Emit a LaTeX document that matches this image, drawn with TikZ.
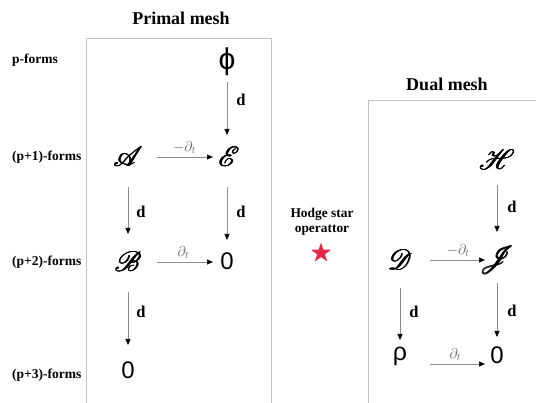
\documentclass[tikz,border=0pt]{standalone}
\usepackage{fontspec}
\setmainfont{Liberation Serif}
\newfontfamily\symfont{Liberation Sans}
% script alphabet, scalable to any size
\DeclareFontFamily{U}{rsfs}{\skewchar\font127 }
\DeclareFontShape{U}{rsfs}{m}{n}{<-> rsfs10}{}
\usepackage{mathrsfs}
\usetikzlibrary{arrows.meta,shapes.geometric,calc}
\definecolor{boxgray}{HTML}{C4C4C4}
\definecolor{arrowgray}{HTML}{8C8C8C}
\definecolor{labgray}{HTML}{606060}
\definecolor{starred}{HTML}{E8264A}
% heavier script letters: overlay slightly shifted copies
\newcommand\heavyscr[1]{\ooalign{$\mathscr{#1}$\cr\kern0.6pt$\mathscr{#1}$\cr\kern0.3pt\raise0.5pt\hbox{$\mathscr{#1}$}\cr\kern0.9pt\raise0.2pt\hbox{$\mathscr{#1}$}\cr}}

\begin{document}
\begin{tikzpicture}[x=1pt,y=-1pt,
  box/.style={draw=boxgray,line width=0.8pt},
  title/.style={font=\fontsize{18}{20}\selectfont\bfseries,inner sep=0},
  rowlab/.style={font=\fontsize{13.5}{15}\selectfont\bfseries,anchor=west,inner sep=0},
  scr/.style={inner sep=0,font=\fontsize{28}{32}\selectfont},
  sym/.style={inner sep=0,font=\fontsize{24}{28}\selectfont\symfont},
  map/.style={draw=arrowgray,line width=0.6pt,-{Triangle[length=6pt,width=5pt,color=black]}},
  dlab/.style={font=\fontsize{16.5}{18}\selectfont\bfseries,inner sep=0},
  tlab/.style={font=\fontsize{14}{16}\selectfont,text=labgray,inner sep=0,anchor=south,yshift=3pt},
]
\useasboundingbox (0,0) rectangle (536,403);

% mesh frames
\draw[box] (86,403) -- (86,38) -- (271,38) -- (271,403);
\draw[box] (368,403) -- (368,100) -- (537,100);

% titles
\node[title] (tprimal) at (181,18) {Primal mesh};
\node[title] (tdual) at (447,84) {Dual mesh};

% form degrees
\node[rowlab] (r0) at (12,60) {p-forms};
\node[rowlab] (r1) at (12,157) {(p+1)-forms};
\node[rowlab] (r2) at (12,262) {(p+2)-forms};
\node[rowlab] (r3) at (12,375) {(p+3)-forms};

% primal complex
\node[sym,font=\fontsize{30}{34}\selectfont\symfont] (phi) at (227,62) {ϕ};
\node[scr] (E) at (229,157) {\heavyscr{E}};
\node[scr] (A) at (128,157) {\heavyscr{A}};
\node[scr] (B) at (128,262) {\heavyscr{B}};
\node[sym] (Z1) at (227,261) {0};
\node[sym] (Z2) at (128,370) {0};

\draw[map,shorten <=20pt,shorten >=22pt] (phi.center) -- (phi.center |- E.center)
  node[dlab,pos=0.4,xshift=14pt] {d};
\draw[map,shorten <=30pt,shorten >=21pt] (Z1.center |- E.center) -- (Z1.center)
  node[dlab,pos=0.53,xshift=14pt] {d};
\draw[map,shorten <=30pt,shorten >=28pt] (A.center) -- (B.center)
  node[dlab,pos=0.52,xshift=13pt] {d};
\draw[map,shorten <=30pt,shorten >=25pt] (B.center) -- (Z2.center)
  node[dlab,pos=0.46,xshift=13pt] {d};
\draw[map,shorten <=29pt,shorten >=16pt] (A.center) -- (E.center)
  node[tlab,pos=0.56] {$-\partial_t$};
\draw[map,shorten <=29pt,shorten >=14pt] (B.center) -- (B.center -| Z1.center)
  node[tlab,pos=0.56] {$\partial_t$};

% Hodge star between the meshes
\node[font=\fontsize{13.4}{15}\selectfont\bfseries,align=center,inner sep=0] (hodge) at (322,222) {Hodge star\\operattor};
\node[star,star points=5,star point ratio=2.6,minimum size=21pt,inner sep=0,fill=starred] (star) at (321,253) {};

% dual complex
\node[scr] (H) at (497,160) {\heavyscr{H}};
\node[scr] (D) at (400,260) {\heavyscr{D}};
\node[scr] (J) at (497,260) {\heavyscr{J}};
\node[sym,font=\fontsize{25}{28}\selectfont\symfont] (rho) at (400,356) {ρ};
\node[sym] (Z3) at (497,355) {0};

\draw[map,shorten <=25pt,shorten >=28pt] (H.center) -- (J.center)
  node[dlab,pos=0.47,xshift=15pt] {d};
\draw[map,shorten <=23pt,shorten >=18pt] (J.center) -- (Z3.center)
  node[dlab,pos=0.54,xshift=15pt] {d};
\draw[map,shorten <=28pt,shorten >=16pt] (D.center) -- (rho.center)
  node[dlab,pos=0.54,xshift=14pt] {d};
\draw[map,shorten <=30pt,shorten >=12pt] (D.center) -- (J.center)
  node[tlab,pos=0.6] {$-\partial_t$};
\draw[map,shorten <=30pt,shorten >=12pt] ($(rho.center)+(0,8)$) -- ($(rho.center -| Z3.center)+(0,8)$)
  node[tlab,pos=0.57] {$\partial_t$};
\end{tikzpicture}
\end{document}
